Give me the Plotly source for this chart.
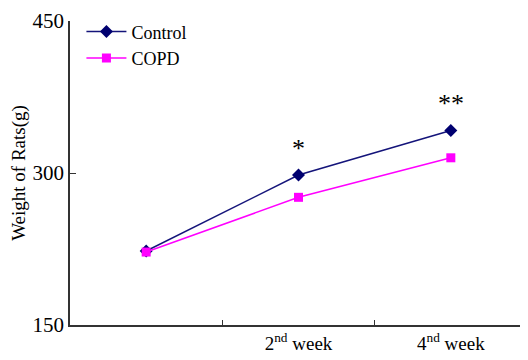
import plotly.graph_objects as go

categories = ["0wk", "2wk", "4wk"]
tick_labels = ["", "2<sup>nd</sup> week", "4<sup>nd</sup> week"]
control = [223, 298, 342]
copd = [222, 276, 315]
marks = ["", "*", "**"]

fig = go.Figure()
fig.add_trace(go.Scatter(x=categories, y=control, name="Control", mode="lines+markers",
                         line=dict(color="#14147a", width=1.5),
                         marker=dict(symbol="diamond", size=10, color="#000070")))
fig.add_trace(go.Scatter(x=categories, y=copd, name="COPD", mode="lines+markers",
                         line=dict(color="#ff00ff", width=1.5),
                         marker=dict(symbol="square", size=9, color="#ff00ff")))

for c, v, m in zip(categories, control, marks):
    if m:
        fig.add_annotation(x=c, y=v, text=m, showarrow=False, yshift=27,
                           font=dict(size=26, color="black", family="Liberation Serif"))

fig.update_layout(
    width=520, height=352,
    margin=dict(l=62, r=1, t=10, b=35),
    plot_bgcolor="white", paper_bgcolor="white",
    font=dict(family="Liberation Serif", size=19, color="black"),
    showlegend=True,
    legend=dict(x=0.025, y=1.025, xanchor="left", yanchor="top", bgcolor="rgba(0,0,0,0)",
                font=dict(size=18), tracegroupgap=0, itemwidth=40),
)
fig.update_xaxes(type="category", categoryorder="array", categoryarray=categories,
                 tickvals=categories, ticktext=tick_labels, tickson="boundaries",
                 ticks="inside", ticklen=5, tickcolor="#333", showline=True,
                 linecolor="#333", linewidth=1.5, showgrid=False, range=[-0.5, 2.5],
                 tickfont=dict(size=19))
fig.update_yaxes(range=[150, 450], tickvals=[150, 300, 450], ticks="inside", ticklen=6,
                 tickcolor="#333", showline=True, linecolor="#333", linewidth=1.5,
                 showgrid=False, zeroline=False, ticklabeloverflow="allow",
                 title=dict(text="Weight of Rats(g)", font=dict(size=19), standoff=8),
                 tickfont=dict(size=21))

fig.write_html("out.html")
